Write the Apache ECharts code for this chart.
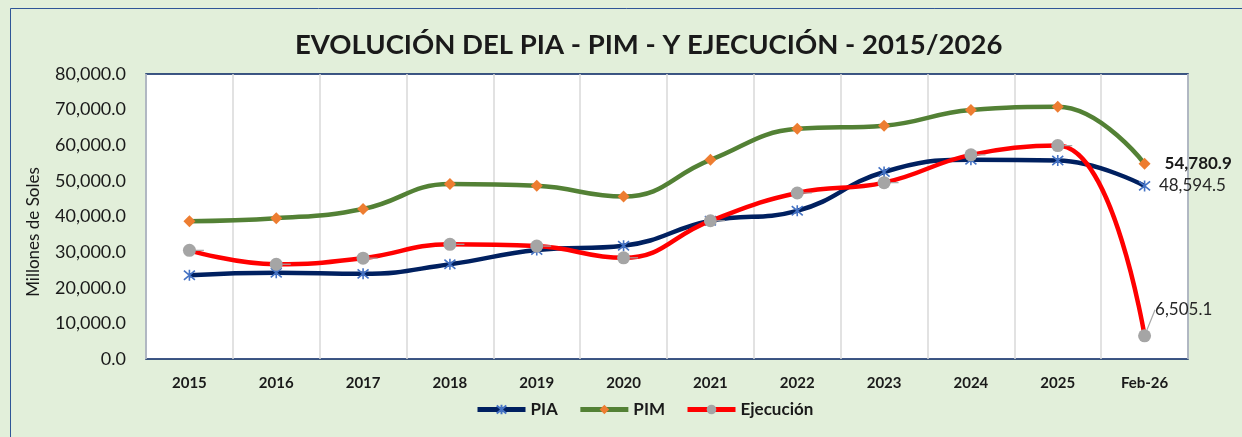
<!DOCTYPE html>
<html>
<head>
<meta charset="utf-8">
<script src="https://cdn.jsdelivr.net/npm/echarts@6/dist/echarts.min.js"></script>
<style>
  html, body { margin: 0; padding: 0; background: #E2EFDA; }
  #chart { width: 1242px; height: 437px; }
</style>
</head>
<body>
<div id="chart"></div>
<script>
const years = ['2015', '2016', '2017', '2018', '2019', '2020', '2021', '2022', '2023', '2024', '2025', 'Feb-26']
const pia = [23500, 24200, 23900, 26600, 30600, 31800, 38800, 41600, 52500, 55900, 55700, 48594.5]
const pim = [38700, 39500, 42100, 49100, 48600, 45600, 55900, 64600, 65500, 69900, 70800, 54780.9]
const ejecucion = [30500, 26600, 28300, 32200, 31700, 28400, 38800, 46600, 49500, 57300, 59900, 6505.1]
const yTicks = [0, 10000, 20000, 30000, 40000, 50000, 60000, 70000, 80000]

const FONT = 'Lato, "Open Sans", sans-serif'
const fmt = (v) => v.toLocaleString('en-US', { minimumFractionDigits: 1, maximumFractionDigits: 1 })
const last = years.length - 1
const asterisk = 'path://M0,0 L10,10 M10,0 L0,10 M5,-1 L5,11'

const chart = echarts.init(document.getElementById('chart'))

const option = {
  backgroundColor: '#E2EFDA',
  textStyle: { fontFamily: FONT },
  title: {
    text: 'EVOLUCIÓN DEL PIA - PIM - Y EJECUCIÓN - 2015/2026',
    left: 290,
    top: 26,
    textStyle: { fontFamily: FONT, fontSize: 27.5, fontWeight: 'bold', color: '#1a1a1a' }
  },
  graphic: [
    {
      type: 'rect',
      shape: { x: 10.5, y: 8.5, width: 1240, height: 440 },
      style: { fill: 'none', stroke: '#2F5597', lineWidth: 1 },
      silent: true
    },
    {
      type: 'text',
      x: 34,
      y: 232,
      rotation: Math.PI / 2,
      style: {
        text: 'Millones de Soles',
        fontFamily: FONT,
        fontSize: 17,
        fill: '#1a1a1a',
        align: 'center',
        verticalAlign: 'middle'
      },
      silent: true
    }
  ],
  legend: {
    bottom: 14,
    left: 470,
    itemWidth: 48,
    itemHeight: 12,
    itemGap: 20,
    lineStyle: { width: 5 },
    textStyle: { fontFamily: FONT, fontSize: 17, fontWeight: 'bold', color: '#1a1a1a' },
    data: ['PIA', 'PIM', 'Ejecución']
  },
  grid: { left: 146, right: 54, top: 74, bottom: 78, containLabel: false,
    show: true, backgroundColor: '#ffffff', borderColor: '#002060', borderWidth: 1.5 },
  xAxis: {
    type: 'category',
    data: years,
    boundaryGap: true,
    axisLine: { show: false },
    axisTick: { show: false },
    axisLabel: { fontFamily: FONT, fontSize: 15, fontWeight: 'bold', color: '#1a1a1a', margin: 17 },
    splitLine: { show: true, interval: 0, lineStyle: { color: '#D9D9D9', width: 1.5 } }
  },
  yAxis: {
    type: 'value',
    min: yTicks[0],
    max: yTicks[yTicks.length - 1],
    interval: 10000,
    axisLine: { show: false },
    axisTick: { show: false },
    splitLine: { show: false },
    axisLabel: { fontFamily: FONT, fontSize: 18, color: '#1a1a1a', margin: 20, formatter: (v) => fmt(v) }
  },
  series: [
    {
      name: 'PIA',
      type: 'line',
      data: pia,
      smooth: 0.45,
      symbol: asterisk,
      symbolSize: 11,
      lineStyle: { color: '#002060', width: 4.5 },
      itemStyle: { color: '#4472C4', borderColor: '#4472C4', borderWidth: 1.6 },
      label: {
        show: true,
        position: 'right',
        distance: 8,
        fontFamily: FONT,
        fontSize: 17,
        color: '#262626',
        formatter: (p) => (p.dataIndex === last ? fmt(p.value) : '')
      },
      z: 3
    },
    {
      name: 'PIM',
      type: 'line',
      data: pim,
      smooth: 0.45,
      symbol: 'diamond',
      symbolSize: 12,
      lineStyle: { color: '#538135', width: 4.5 },
      itemStyle: { color: '#ED7D31' },
      label: {
        show: true,
        position: 'right',
        distance: 14,
        fontFamily: FONT,
        fontSize: 17,
        fontWeight: 'bold',
        color: '#1a1a1a',
        formatter: (p) => (p.dataIndex === last ? fmt(p.value) : '')
      },
      z: 2
    },
    {
      name: 'Ejecución',
      type: 'line',
      data: ejecucion,
      smooth: 0.45,
      symbol: 'circle',
      symbolSize: 13,
      lineStyle: { color: '#FF0000', width: 4.5 },
      itemStyle: { color: '#A5A5A5' },
      label: {
        show: true,
        position: 'right',
        distance: 8,
        fontFamily: FONT,
        fontSize: 17,
        color: '#262626',
        formatter: (p) => (p.dataIndex === last ? fmt(p.value) : '')
      },
      labelLayout: (params) => (params.dataIndex === last ? { dx: -4, dy: -26 } : {}),
      labelLine: { show: true, lineStyle: { color: '#A6A6A6', width: 1.2 } },
      z: 4
    }
  ]
}

chart.setOption(option)
</script>
</body>
</html>
